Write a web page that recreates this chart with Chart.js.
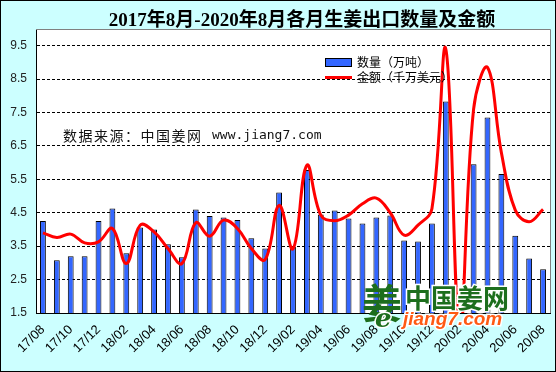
<!DOCTYPE html>
<html>
<head>
<meta charset="utf-8">
<script src="https://cdn.jsdelivr.net/npm/chart.js@4.4.0/dist/chart.umd.min.js"></script>
<style>
html,body{margin:0;padding:0;background:#ccffff;}
#wrap{width:556px;height:372px;position:relative;}
</style>
</head>
<body>
<div id="wrap"><canvas id="c" width="556" height="372"></canvas></div>
<script>
const chartTitle = '2017年8月-2020年8月各月生姜出口数量及金额';
const months = ['17/08','17/09','17/10','17/11','17/12','18/01','18/02','18/03','18/04','18/05','18/06','18/07',
  '18/08','18/09','18/10','18/11','18/12','19/01','19/02','19/03','19/04','19/05','19/06','19/07',
  '19/08','19/09','19/10','19/11','19/12','20/01','20/02','20/03','20/04','20/05','20/06','20/07','20/08'];
const quantity = [4.25,3.08,3.2,3.2,4.25,4.63,3.29,4.06,4.0,3.56,3.17,4.6,
  4.4,4.36,4.28,3.74,3.43,5.11,3.48,5.78,4.45,4.57,4.33,4.18,
  4.36,4.42,3.67,3.64,4.18,7.83,1.2,5.95,7.35,5.66,3.81,3.13,2.81];
const amount = [3.9,3.76,3.86,3.6,3.63,4.03,2.98,4.13,3.93,3.43,2.98,4.2,
  3.8,4.28,4.03,3.43,3.1,4.72,3.42,5.92,4.43,4.26,4.43,4.77,
  4.94,4.5,3.83,4.13,4.62,9.4,0.9,7.6,8.85,6.3,4.58,4.23,4.6];
const yTicks = [1.5,2.5,3.5,4.5,5.5,6.5,7.5,8.5,9.5];
const seriesNames = ['数量（万吨）','金额（千万美元）'];
const sourceCN = '数据来源：中国姜网';
const sourceURL = 'www.jiang7.com';

const deco = {
  id:'deco',
  beforeDraw(chart){
    const ctx = chart.ctx, a = chart.chartArea;
    ctx.save();
    ctx.fillStyle = '#ccffff';
    ctx.fillRect(0,0,chart.width,chart.height);
    ctx.fillStyle = '#ffffff';
    ctx.fillRect(a.left,a.top,a.right-a.left,a.bottom-a.top);
    ctx.restore();
  },
  beforeDatasetsDraw(chart){
    const ctx = chart.ctx;
    ctx.save();
    ctx.fillStyle = '#111';
    ctx.textBaseline = 'middle';
    ctx.font = '14px "Noto Sans CJK SC"';
    ctx.letterSpacing = '1.5px';
    ctx.fillText(sourceCN, 63, 136);
    ctx.letterSpacing = '0px';
    ctx.font = '13px "DejaVu Sans Mono"';
    ctx.fillText(sourceURL, 212, 136);
    ctx.restore();
  },
  afterDatasetsDraw(chart){
    const ctx = chart.ctx, a = chart.chartArea;
    ctx.save();
    ctx.strokeStyle = '#808080';
    ctx.lineWidth = 1;
    ctx.beginPath();
    ctx.moveTo(a.left, Math.round(a.top)+0.5);
    ctx.lineTo(Math.round(a.right)+0.5, Math.round(a.top)+0.5);
    ctx.lineTo(Math.round(a.right)+0.5, a.bottom);
    ctx.stroke();
    // legend
    ctx.fillStyle = '#3366ff';
    ctx.fillRect(325,58,27,9);
    ctx.strokeStyle = '#000';
    ctx.strokeRect(325.5,58.5,26,8);
    ctx.strokeStyle = '#ff0000';
    ctx.lineWidth = 3;
    ctx.beginPath(); ctx.moveTo(325,77.5); ctx.lineTo(352,77.5); ctx.stroke();
    ctx.fillStyle = '#000';
    ctx.font = '12px "Noto Sans CJK SC"';
    ctx.textBaseline = 'middle';
    ctx.fillText(seriesNames[0], 357, 62);
    ctx.fillText(seriesNames[1], 357, 77);
    // logo
    ctx.font = 'bold 40px "Noto Sans CJK SC"';
    ctx.fillStyle = '#1d6e1d';
    ctx.textBaseline = 'alphabetic';
    ctx.fillText('姜', 362, 318);
    ctx.font = 'italic bold 26px "DejaVu Serif"';
    ctx.strokeStyle = '#fff'; ctx.lineWidth = 3;
    ctx.strokeText('e', 375, 327);
    ctx.fillText('e', 375, 327);
    ctx.font = 'bold 26px "Noto Sans CJK SC"';
    ctx.fillStyle = '#1d6e1d';
    ctx.strokeStyle = '#fff'; ctx.lineWidth = 3;
    ctx.textBaseline = 'middle';
    ctx.strokeText('中国姜网', 405, 298);
    ctx.fillText('中国姜网', 405, 298);
    ctx.font = 'italic bold 19px "Liberation Sans"';
    ctx.fillStyle = '#ff5a14';
    ctx.strokeStyle = '#fff'; ctx.lineWidth = 3;
    ctx.strokeText('jiang7.com', 403, 320);
    ctx.fillText('jiang7.com', 403, 320);
    ctx.restore();
  },
  afterDraw(chart){
    const ctx = chart.ctx;
    ctx.save();
    ctx.fillStyle = '#000';
    ctx.font = 'bold 19px "Liberation Serif", "Noto Sans CJK SC"';
    ctx.textAlign = 'center';
    ctx.textBaseline = 'middle';
    ctx.fillText(chartTitle, 302, 21);
    ctx.strokeStyle = '#000';
    ctx.lineWidth = 1;
    ctx.strokeRect(0.5,0.5,chart.width-1,chart.height-1);
    ctx.restore();
  }
};

new Chart(document.getElementById('c'), {
  data: {
    labels: months,
    datasets: [
      {type:'line', label:seriesNames[1], data:amount, borderColor:'#ff0000', borderWidth:3,
       pointRadius:0, tension:0.4, fill:false, order:0},
      {type:'bar', label:seriesNames[0], data:quantity, backgroundColor:'#3366ff', borderColor:'#000',
       borderWidth:1, barPercentage:0.42, categoryPercentage:1.0, order:1}
    ]
  },
  options: {
    responsive:false,
    animation:false,
    devicePixelRatio:1,
    layout:{padding:{top:29,right:6,left:0,bottom:0}},
    plugins:{legend:{display:false}, title:{display:false}, tooltip:{enabled:false}},
    scales:{
      x:{
        grid:{display:false, drawTicks:false},
        border:{display:true,color:'#000',width:1},
        ticks:{autoSkip:false, maxRotation:45, minRotation:45, padding:9, color:'#000',
          font:{family:'"Liberation Sans", Arial', size:13},
          callback:function(v,i){return i%2===0 ? months[i] : '';}},
        afterFit(s){s.height = 59; s.paddingLeft = 0; s.paddingRight = 0;}
      },
      y:{
        min:1.5, max:10,
        afterBuildTicks(s){s.ticks = yTicks.map(v=>({value:v}));},
        grid:{color:'#000', lineWidth:1, drawTicks:false},
        border:{display:true,color:'#000',width:1, dash:[3,2]},
        ticks:{padding:9, color:'#222', font:{family:'"Liberation Sans", Arial', size:12},
          callback:function(v){return Number(v).toFixed(1);}},
        afterFit(s){s.width = 36; s.paddingTop = 0; s.paddingBottom = 0;}
      }
    }
  },
  plugins:[deco]
});
</script>
</body>
</html>
